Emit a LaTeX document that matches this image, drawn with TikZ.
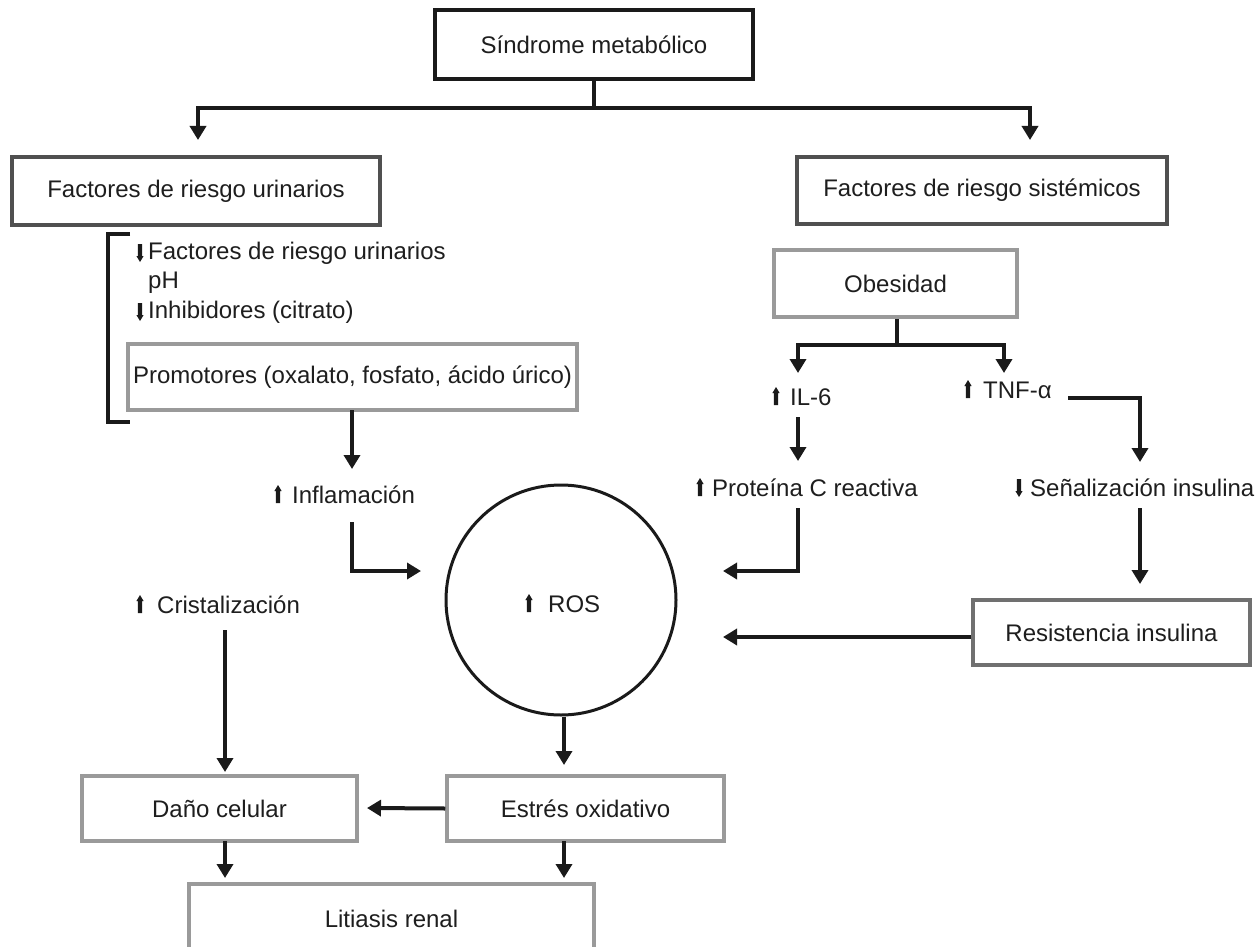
\documentclass[tikz,border=0pt]{standalone}
\usepackage{fontspec}
\setmainfont{Liberation Sans}
\usetikzlibrary{arrows.meta}
\definecolor{txt}{HTML}{1E1E1E}
\definecolor{ink}{HTML}{1A1A1A}
\definecolor{gdark}{HTML}{505050}
\definecolor{gmid}{HTML}{707070}
\definecolor{glight}{HTML}{9A9A9A}
\begin{document}
\begin{tikzpicture}[x=1pt,y=-1pt,
  box/.style={draw=glight, line width=3.5pt, fill=white, inner sep=0pt,
    font=\fontsize{24}{29}\selectfont, text=txt},
  bigbox/.style={box, line width=4.5pt},
  lbl/.style={inner sep=0pt, anchor=west, font=\fontsize{24}{29}\selectfont, text=txt},
  conn/.style={draw=ink, line width=4pt},
  arr/.style={conn, -{Triangle[length=14pt,width=16pt]}},
  upar/.pic={\fill[ink] (-2.2,8) rectangle (2.2,-4) (-3.6,-4) -- (3.6,-4) -- (0,-10) -- cycle;},
  dnar/.pic={\fill[ink] (-2.2,-9) rectangle (2.2,3) (-3.6,3) -- (3.6,3) -- (0,9) -- cycle;}
]
\clip (0,0) rectangle (1255,947);
\fill[white] (0,0) rectangle (1255,947);

% boxes
\node[bigbox, draw=ink, minimum width=318, minimum height=69] (sm) at (594,44.5) {Síndrome metabólico};
\node[bigbox, draw=gdark, minimum width=368, minimum height=68] (fru) at (196,191) {Factores de riesgo urinarios};
\node[bigbox, draw=gdark, minimum width=370, minimum height=67] (frs) at (982,190.5) {Factores de riesgo sistémicos};
\node[box, minimum width=243, minimum height=67] (ob) at (895.5,283.5) {Obesidad};
\node[box, minimum width=449, minimum height=66] (prom) at (352.5,377) {Promotores (oxalato, fosfato, ácido úrico)};
\node[box, draw=gmid, minimum width=277, minimum height=65] (res) at (1111.5,632.5) {Resistencia insulina};
\node[box, minimum width=275, minimum height=65] (dano) at (219.5,808.5) {Daño celular};
\node[box, minimum width=277, minimum height=65] (estres) at (585.5,808.5) {Estrés oxidativo};
\node[box, minimum width=405, minimum height=70] (lit) at (391.5,919) {Litiasis renal};
\node[circle, draw=ink, line width=3pt, minimum size=230, inner sep=0pt] (ros) at (561,600) {};

% bracket
\draw[draw=ink, line width=4pt] (130,234) -- (108,234) -- (108,422) -- (130,422);

% text labels
\node[lbl] (t1) at (148,253) {Factores de riesgo urinarios}; \pic at (140,253) {dnar};
\node[lbl] (t2) at (148,283) {pH};
\node[lbl] (t3) at (148,312) {Inhibidores (citrato)}; \pic at (140,312) {dnar};
\node[lbl] (infl) at (292,495) {Inflamación}; \pic at (278,495) {upar};
\node[lbl] (cris) at (157,605) {Cristalización}; \pic at (140,605) {upar};
\node[lbl] (rostxt) at (548,604) {ROS}; \pic at (529,604) {upar};
\node[lbl] (il6) at (790,397) {IL-6}; \pic at (776,397) {upar};
\node[lbl] (tnf) at (983,390) {TNF-α}; \pic at (968,390) {upar};
\node[lbl] (pcr) at (712,488) {Proteína C reactiva}; \pic at (700,488) {upar};
\node[lbl] (sen) at (1030,488) {Señalización insulina}; \pic at (1019,488) {dnar};

% coordinates for connector ends
\coordinate (split) at (594,108);
\coordinate (fruin) at (198,140);
\coordinate (frsin) at (1030,140);
\coordinate (obsplit) at (897,345);
\coordinate (il6in) at (798,373);
\coordinate (tnfin) at (1004,373);
\coordinate (il6out) at (798,417);
\coordinate (pcrin) at (798,461);
\coordinate (tnfout) at (1068,398);
\coordinate (senin) at (1140,462);
\coordinate (pcrout) at (798,508);
\coordinate (rosinR1) at (723,571);
\coordinate (senout) at (1140,508);
\coordinate (resin) at (1140,584);
\coordinate (rosinR2) at (723,637);
\coordinate (promout) at (352,410);
\coordinate (inflin) at (352,469);
\coordinate (inflout) at (352,522);
\coordinate (rosinL) at (421,571);
\coordinate (crisout) at (225,630);
\coordinate (danoin) at (225,772);
\coordinate (estresin) at (564,765);
\coordinate (danoinR) at (367,808);
\coordinate (danoout) at (225,841);
\coordinate (litinL) at (225,878);
\coordinate (estresout) at (564,841);
\coordinate (litinR) at (564,878);

% connectors
\draw[conn] (sm.south) -- (split);
\draw[arr] (split) -| (fruin);
\draw[arr] (split) -| (frsin);
\draw[conn] (ob.south -| obsplit) -- (obsplit);
\draw[arr] (obsplit) -| (il6in);
\draw[arr] (obsplit) -| (tnfin);
\draw[arr] (il6out) -- (pcrin);
\draw[arr] (tnfout) -| (senin);
\draw[arr] (pcrout) |- (rosinR1);
\draw[arr] (senout) -- (resin);
\draw[arr] (res.west |- rosinR2) -- (rosinR2);
\draw[arr] (promout) -- (inflin);
\draw[arr] (inflout) |- (rosinL);
\draw[arr] (crisout) -- (danoin);
\draw[arr] (ros.south -| estresin) -- (estresin);
\draw[arr] (estres.west) -- (danoinR);
\draw[arr] (danoout) -- (litinL);
\draw[arr] (estresout) -- (litinR);
\end{tikzpicture}
\end{document}
